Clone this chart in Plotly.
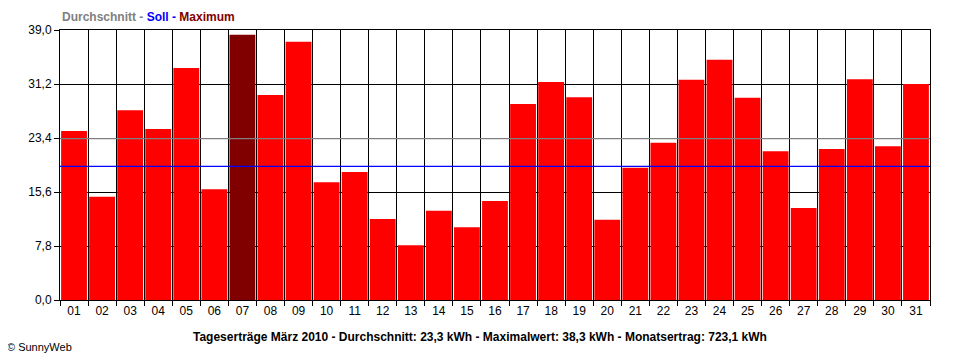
import plotly.graph_objects as go

days = [f"{d:02d}" for d in range(1, 32)]
energy = [24.4, 14.9, 27.4, 24.7, 33.5, 16.0, 38.3, 29.6, 37.3, 17.0,
          18.5, 11.7, 7.9, 12.9, 10.5, 14.3, 28.3, 31.5, 29.3, 11.6,
          19.1, 22.7, 31.8, 34.7, 29.2, 21.5, 13.3, 21.8, 31.9, 22.2, 31.2]
average = 23.3
target = 19.3
y_max = 39.0
y_step = 7.8
title_text = ("Tageserträge März 2010 - Durchschnitt: 23,3 kWh - "
              "Maximalwert: 38,3 kWh - Monatsertrag: 723,1 kWh")

max_val = max(energy)
colors = ["#800000" if v == max_val else "#FF0000" for v in energy]

fig = go.Figure()
fig.add_trace(go.Bar(x=days, y=energy, marker=dict(color=colors, line=dict(width=0)),
                     hoverinfo="x+y"))

fig.add_shape(type="line", xref="paper", x0=0, x1=1, yref="y", y0=average, y1=average,
              line=dict(color="#808080", width=1.3), layer="above")
fig.add_shape(type="line", xref="paper", x0=0, x1=1, yref="y", y0=target, y1=target,
              line=dict(color="#0000FF", width=1.2), layer="above")

font = "Liberation Sans, Arial, sans-serif"
fig.update_layout(
    width=952, height=352,
    margin=dict(l=52, r=30, t=22, b=60),
    paper_bgcolor="white", plot_bgcolor="white",
    separators=",.",
    bargap=0.08,
    showlegend=False,
    font=dict(family=font, size=12, color="black"),
    xaxis=dict(type="category", tickson="boundaries", showgrid=True, gridcolor="black",
               gridwidth=1, ticks="outside", ticklen=5, tickcolor="black",
               showline=True, linecolor="black", linewidth=1, mirror=True,
               tickfont=dict(size=12, family=font)),
    yaxis=dict(range=[0, y_max], tick0=0, dtick=y_step, tickformat=".1f",
               showgrid=True, gridcolor="black", gridwidth=1, zeroline=False,
               ticks="outside", ticklen=5, tickcolor="black",
               showline=True, linecolor="black", linewidth=1, mirror=True,
               tickfont=dict(size=12, family=font)),
    annotations=[
        dict(xref="paper", yref="paper", x=0, y=1, yshift=13, xanchor="left",
             yanchor="middle", showarrow=False,
             text=("<span style='color:#808080'>Durchschnitt - </span>"
                   "<span style='color:#0000FF'>Soll - </span>"
                   "<span style='color:#800000'>Maximum</span>"),
             font=dict(size=12, family=font, weight="bold")),
        dict(xref="paper", yref="paper", x=(480 - 60) / 870, y=0, yshift=-37,
             xanchor="center", yanchor="middle", showarrow=False, text=title_text,
             font=dict(size=12, family=font, weight="bold", color="black")),
        dict(xref="paper", yref="paper", x=-55 / 870, y=0, yshift=-47,
             xanchor="left", yanchor="middle", showarrow=False, text="© SunnyWeb",
             font=dict(size=11, family=font, color="black")),
    ],
)

fig.write_html("out.html")
